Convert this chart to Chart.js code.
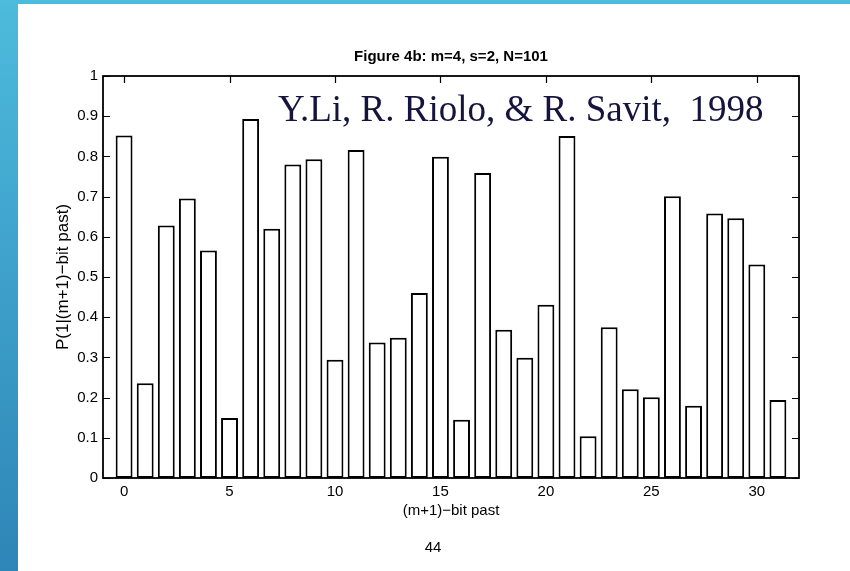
<!DOCTYPE html>
<html>
<head>
<meta charset="utf-8">
<script src="https://cdn.jsdelivr.net/npm/chart.js@4/dist/chart.umd.min.js"></script>
<style>
  html, body { margin: 0; padding: 0; background: #fff; }
  #wrap { position: relative; width: 850px; height: 571px; overflow: hidden; background: #fff; }
  #side { position: absolute; left: 0; top: 0; width: 18px; height: 571px; background: linear-gradient(#4dbbdc, #2e85b7); }
  #topbar { position: absolute; left: 0; top: 0; width: 850px; height: 4px; background: #4dbbdc; }
  #chart { position: absolute; left: 0; top: 0; }
  #note { position: absolute; left: 278px; top: 90px; font-family: 'Liberation Serif', 'Times New Roman', serif;
          font-size: 37px; line-height: 37px; color: #14143c; white-space: pre; }
</style>
</head>
<body>
<div id="wrap">
  <div id="side"></div>
  <div id="topbar"></div>
  <canvas id="chart" width="850" height="571"></canvas>
  <div id="note">Y.Li, R. Riolo, &amp; R. Savit,  1998</div>
</div>
<script>
// (m+1)-bit past history index and P(1 | history)
const pastIndex = [0, 1, 2, 3, 4, 5, 6, 7, 8, 9, 10, 11, 12, 13, 14, 15,
                   16, 17, 18, 19, 20, 21, 22, 23, 24, 25, 26, 27, 28, 29, 30, 31];
const probOne = [0.852, 0.236, 0.628, 0.695, 0.566, 0.149, 0.893, 0.620,
                 0.780, 0.793, 0.294, 0.816, 0.337, 0.349, 0.460, 0.799,
                 0.145, 0.759, 0.369, 0.299, 0.431, 0.851, 0.104, 0.375,
                 0.221, 0.201, 0.701, 0.180, 0.658, 0.646, 0.531, 0.194];

const xTicks = [0, 5, 10, 15, 20, 25, 30];
const yTicks = [0, 0.1, 0.2, 0.3, 0.4, 0.5, 0.6, 0.7, 0.8, 0.9, 1];
const yTickLabels = ['0', '0.1', '0.2', '0.3', '0.4', '0.5', '0.6', '0.7', '0.8', '0.9', '1'];

const titleText = 'Figure 4b: m=4, s=2, N=101';
const pageNo = '44';

const sans = 'Liberation Sans';

// matlab style box with inward ticks
const frame = {
  id: 'frame',
  beforeDatasetsDraw(chart) {
    const { ctx, chartArea: a, scales: { x, y } } = chart;
    ctx.save();
    ctx.strokeStyle = '#000';
    ctx.lineWidth = 1.2;
    ctx.beginPath();
    xTicks.forEach(v => {
      const px = Math.round(x.getPixelForValue(v)) + 0.5;
      ctx.moveTo(px, a.bottom); ctx.lineTo(px, a.bottom - 7);
      ctx.moveTo(px, a.top); ctx.lineTo(px, a.top + 7);
    });
    yTicks.forEach(v => {
      const py = Math.round(y.getPixelForValue(v)) + 0.5;
      ctx.moveTo(a.left, py); ctx.lineTo(a.left + 7, py);
      ctx.moveTo(a.right, py); ctx.lineTo(a.right - 7, py);
    });
    ctx.stroke();
    ctx.restore();
  },
  afterDatasetsDraw(chart) {
    const { ctx, chartArea: a } = chart;
    ctx.save();
    ctx.strokeStyle = '#000';
    ctx.lineWidth = 1.8;
    ctx.strokeRect(a.left, a.top, a.right - a.left, a.bottom - a.top);
    ctx.fillStyle = '#000';
    ctx.textAlign = 'center';
    ctx.textBaseline = 'middle';
    ctx.font = 'bold 15px "' + sans + '"';
    ctx.fillText(titleText, (a.left + a.right) / 2, 57);
    ctx.font = '15px "' + sans + '"';
    ctx.fillText(pageNo, 433, 548);
    ctx.restore();
  }
};

new Chart(document.getElementById('chart'), {
  type: 'bar',
  data: {
    datasets: [{
      data: pastIndex.map((v, i) => ({ x: v, y: probOne[i] })),
      backgroundColor: '#fff',
      borderColor: '#000',
      borderWidth: 2,
      borderSkipped: false,
      barPercentage: 0.8,
      categoryPercentage: 1
    }]
  },
  options: {
    responsive: false,
    animation: false,
    layout: { padding: { left: 0, right: 51, top: 76, bottom: 0 } },
    plugins: { legend: { display: false }, tooltip: { enabled: false } },
    scales: {
      x: {
        type: 'linear', min: -1, max: 32, offset: false,
        afterBuildTicks: s => { s.ticks = xTicks.map(v => ({ value: v })); },
        afterFit: s => { s.height = 93; },
        grid: { display: false, drawTicks: false },
        border: { display: false },
        ticks: { padding: 5, color: '#000', maxRotation: 0, font: { family: sans, size: 15 },
                 callback: (v, i) => String(xTicks[i]) },
        title: { display: true, text: '(m+1)−bit past', color: '#000',
                 font: { family: sans, size: 15 }, padding: { top: 0, bottom: 51 } }
      },
      y: {
        min: 0, max: 1,
        afterBuildTicks: s => { s.ticks = yTicks.map(v => ({ value: v })); },
        afterFit: s => { s.width = 103; },
        grid: { display: false, drawTicks: false },
        border: { display: false },
        ticks: { padding: 5, color: '#000', font: { family: sans, size: 15 },
                 callback: (v, i) => yTickLabels[i] },
        title: { display: true, text: 'P(1|(m+1)−bit past)', color: '#000',
                 font: { family: sans, size: 17 }, padding: { top: 52.8, bottom: 0 } }
      }
    }
  },
  plugins: [frame]
});
</script>
</body>
</html>
